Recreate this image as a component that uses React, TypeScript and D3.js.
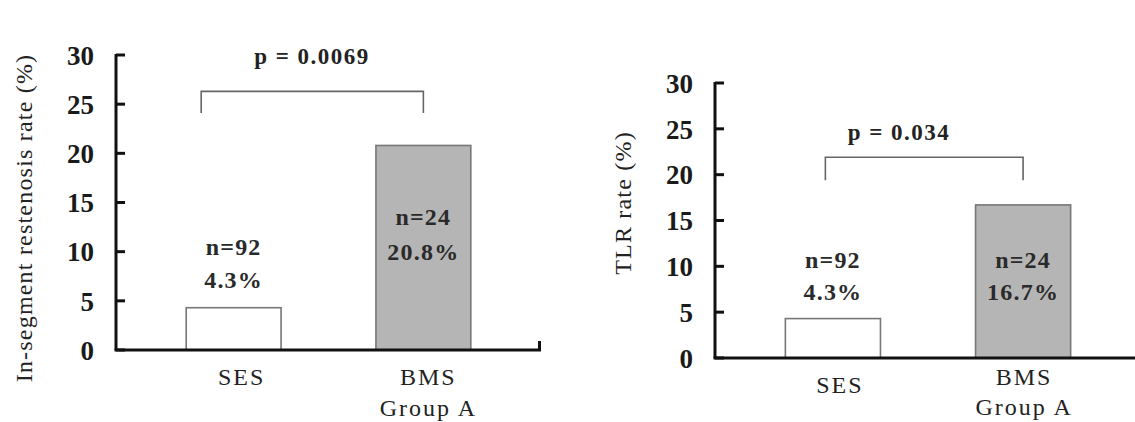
import React from 'react';
import * as d3 from 'd3';

const categories = ['SES', 'BMS'];
const categorySubLabels = ['', 'Group A'];
const sampleSizes = [92, 24];
const restenosisRates = [4.3, 20.8];
const tlrRates = [4.3, 16.7];
const yTicks = [0, 5, 10, 15, 20, 25, 30];
const pValueLabels = ['p = 0.0069', 'p = 0.034'];
const yTitles = ['In-segment restenosis rate (%)', 'TLR rate (%)'];

const width = 1135;
const height = 422;
const serif = '"Liberation Serif", "Times New Roman", serif';

type PanelProps = {
  values: number[];
  title: string;
  pLabel: string;
  axisX: number;
  xEnd: number;
  y0: number;
  y30: number;
  titleX: number;
  titleY: number;
  bracket: { left: number; low: number; high: number };
  pPos: { x: number; v: number };
  labelLevels: number[][];
  catOffsets: number[][];
  endTick: boolean;
};

const Panel = (props: PanelProps) => {
  const { values, axisX, xEnd, y0, y30 } = props;

  const y = d3.scaleLinear().domain([0, 30]).range([y0, y30]);
  const x = d3
    .scaleBand()
    .domain(categories)
    .range([axisX, xEnd])
    .paddingInner(0.5)
    .paddingOuter(0.37);

  const bw = x.bandwidth();
  const cx = (c: string) => (x(c) as number) + bw / 2;

  const bLeft = (x(categories[0]) as number) + props.bracket.left;
  const bRight = cx(categories[1]);
  const bracketPath = d3.path();
  bracketPath.moveTo(bLeft, y(props.bracket.low));
  bracketPath.lineTo(bLeft, y(props.bracket.high));
  bracketPath.lineTo(bRight, y(props.bracket.high));
  bracketPath.lineTo(bRight, y(props.bracket.low));

  return (
    <g>
      {/* bars */}
      {categories.map((c, i) => (
        <rect
          key={c}
          x={x(c)}
          y={y(values[i])}
          width={bw}
          height={y(0) - y(values[i])}
          fill={i === 0 ? '#ffffff' : '#b5b5b5'}
          stroke="#777"
          strokeWidth={1.6}
        />
      ))}

      {/* y axis */}
      <line x1={axisX} x2={axisX} y1={y(30) - 1} y2={y(0)} stroke="#111" strokeWidth={3} />
      {yTicks.map((t) => (
        <g key={t}>
          <line x1={axisX} x2={axisX + 9} y1={y(t)} y2={y(t)} stroke="#111" strokeWidth={3} />
          <text
            x={axisX - 22}
            y={y(t)}
            dy="0.36em"
            textAnchor="end"
            fontFamily={serif}
            fontWeight="bold"
            fontSize={27}
            fill="#1a1a1a"
          >
            {t}
          </text>
        </g>
      ))}

      {/* x axis */}
      <line x1={axisX - 1.5} x2={xEnd} y1={y(0)} y2={y(0)} stroke="#111" strokeWidth={3} />
      {props.endTick && (
        <line x1={xEnd - 1.5} x2={xEnd - 1.5} y1={y(0)} y2={y(0) - 9} stroke="#111" strokeWidth={3} />
      )}

      {/* bar labels */}
      {categories.map((c, i) => (
        <g key={c} fontFamily={serif} fontWeight="bold" fontSize={24} fill="#2a2a2a" textAnchor="middle" letterSpacing={1.2}>
          <text x={cx(c)} y={y(props.labelLevels[i][0])}>{`n=${sampleSizes[i]}`}</text>
          <text x={cx(c)} y={y(props.labelLevels[i][1])}>{`${values[i]}%`}</text>
        </g>
      ))}

      {/* category labels */}
      {categories.map((c, i) => (
        <g key={c} fontFamily={serif} fontSize={24} fill="#222" textAnchor="middle" letterSpacing={2}>
          <text x={cx(c) + props.catOffsets[i][0]} y={y(0) + props.catOffsets[i][1]}>{c}</text>
          {categorySubLabels[i] && (
            <text x={cx(c) + props.catOffsets[i][0]} y={y(0) + props.catOffsets[i][2]}>
              {categorySubLabels[i]}
            </text>
          )}
        </g>
      ))}

      {/* significance bracket */}
      <path d={bracketPath.toString()} fill="none" stroke="#666" strokeWidth={1.6} />
      <text
        x={props.pPos.x}
        y={y(props.pPos.v)}
        textAnchor="middle"
        fontFamily={serif}
        fontWeight="bold"
        fontSize={23}
        fill="#222"
        letterSpacing={1.5}
      >
        {props.pLabel}
      </text>

      {/* y title */}
      <text
        transform={`translate(${props.titleX},${props.titleY}) rotate(-90)`}
        dy="0.35em"
        textAnchor="middle"
        fontFamily={serif}
        fontSize={24}
        fill="#222"
        letterSpacing={1.2}
      >
        {props.title}
      </text>
    </g>
  );
};

const App = () => {
  return (
    <svg
      width={width}
      height={height}
      style={{ position: 'absolute', left: 0, top: 0, background: '#fff' }}
    >
      <rect width={width} height={height} fill="#fff" />
      <Panel
        values={restenosisRates}
        title={yTitles[0]}
        pLabel={pValueLabels[0]}
        axisX={116}
        xEnd={541}
        y0={350}
        y30={55}
        titleX={24}
        titleY={218}
        bracket={{ left: 15, low: 24.1, high: 26.3 }}
        pPos={{ x: 312, v: 29.1 }}
        labelLevels={[
          [9.7, 6.3],
          [12.7, 9.2],
        ]}
        catOffsets={[
          [8, 35, 0],
          [5, 35, 66],
        ]}
        endTick={true}
      />
      <Panel
        values={tlrRates}
        title={yTitles[1]}
        pLabel={pValueLabels[1]}
        axisX={715}
        xEnd={1141}
        y0={358}
        y30={83}
        titleX={623}
        titleY={203}
        bracket={{ left: 40, low: 19.4, high: 21.9 }}
        pPos={{ x: 899, v: 23.8 }}
        labelLevels={[
          [9.8, 6.3],
          [9.8, 6.3],
        ]}
        catOffsets={[
          [7, 35, 0],
          [1, 27, 57],
        ]}
        endTick={false}
      />
    </svg>
  );
};

export default App;
